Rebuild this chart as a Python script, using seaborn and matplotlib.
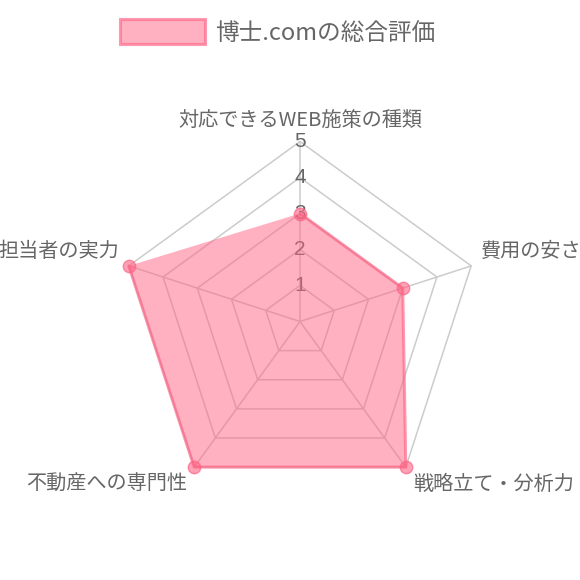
import numpy as np
import pandas as pd
import matplotlib
matplotlib.use('Agg')
import matplotlib.pyplot as plt
from matplotlib.patches import Patch
import seaborn as sns

labels = ['対応できるWEB施策の種類', '費用の安さ', '戦略立て・分析力', '不動産への専門性', '担当者の実力']
scores = [3, 3, 5, 5, 5]
series_name = '博士.comの総合評価'
ticks = [1, 2, 3, 4, 5]

sns.set_style('white')
plt.rcParams['font.family'] = ['Noto Sans CJK JP', 'DejaVu Sans']

pink = (1.0, 99 / 255, 132 / 255)
fill_c = pink + (0.5,)
line_c = pink + (0.65,)
grid_c = '#cccccc'
text_c = '#666666'

n = len(labels)
theta = np.linspace(0, 2 * np.pi, n, endpoint=False)
df = pd.DataFrame({'theta': np.append(theta, theta[0]),
                   'score': scores + scores[:1]})

fig = plt.figure(figsize=(5.8, 5.8), dpi=100)
R = 180
cx, cy = 300, 321.5
ax = fig.add_axes([(cx - R) / 580, (580 - cy - R) / 580, 2 * R / 580, 2 * R / 580],
                  projection='polar')
ax.set_theta_offset(np.pi / 2)
ax.set_theta_direction(-1)
ax.set_ylim(0, max(ticks))
ax.set_axis_off()

# pentagon grid + spokes
for t in ticks:
    ax.plot(df['theta'], [t] * len(df), color=grid_c, lw=1.1, zorder=1,
            clip_on=False)
for a in theta:
    ax.plot([a, a], [0, max(ticks)], color=grid_c, lw=1.1, zorder=1,
            clip_on=False)

# tick labels on the vertical axis
for t in ticks:
    ax.text(0, t, str(t), ha='center', va='center', color=text_c,
            fontsize=15, family=['Liberation Sans', 'DejaVu Sans'],
            zorder=1.5, clip_on=False)

# data
ax.fill(df['theta'], df['score'], color=fill_c, lw=0, zorder=2,
        clip_on=False)
sns.lineplot(data=df, x='theta', y='score', sort=False, ax=ax,
             color=line_c, lw=2.2, zorder=3, clip_on=False)
sns.scatterplot(data=df.iloc[:-1], x='theta', y='score', ax=ax, s=80,
                color=pink + (0.6,), edgecolor=pink + (0.7,), linewidth=1,
                zorder=4, clip_on=False)
ax.set_xlabel('')
ax.set_ylabel('')

# point labels
offsets = [(0, 20.5, 'center'), (10, 14, 'left'), (7, -17.7, 'left'),
           (-7, -17.7, 'right'), (-10, 14, 'right')]
for a, lab, (dx, dy, ha) in zip(theta, labels, offsets):
    ax.annotate(lab, xy=(a, max(ticks)), xytext=(dx, dy),
                textcoords='offset pixels', ha=ha, va='center',
                color=text_c, fontsize=14.5, annotation_clip=False)

handle = Patch(facecolor=fill_c, edgecolor=line_c, linewidth=2.2)
fig.legend([handle], [series_name], loc='center',
           bbox_to_anchor=(277.5 / 580, 1 - 32 / 580), frameon=False,
           fontsize=17, handlelength=3.6, handleheight=1.2,
           handletextpad=0.45, borderpad=0, labelcolor=text_c)

fig.savefig('out.png', dpi=100)
